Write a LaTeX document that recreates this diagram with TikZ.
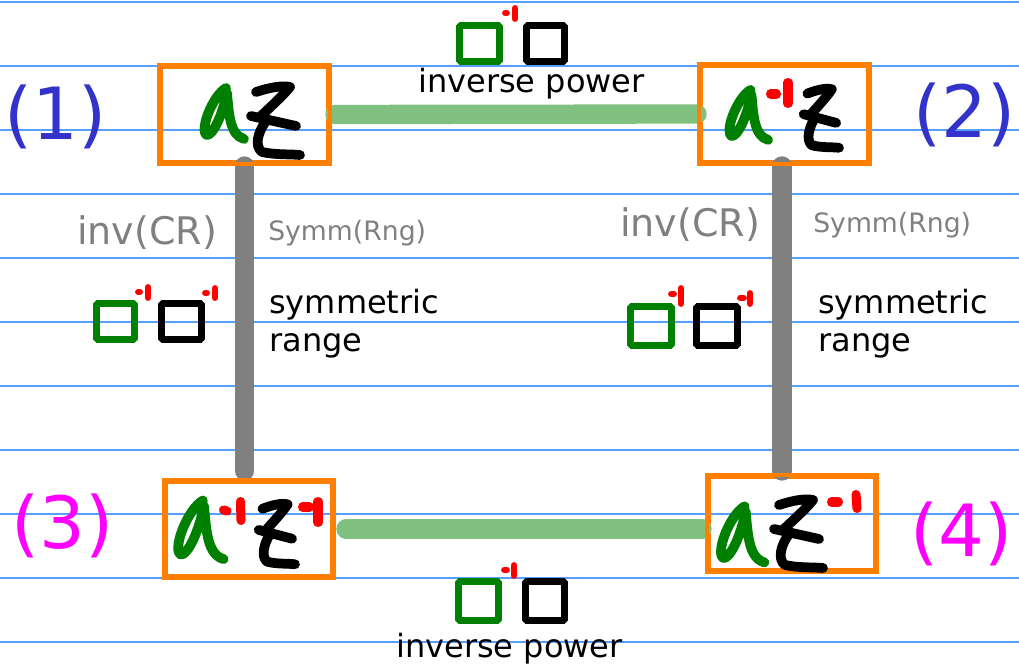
\documentclass[tikz,border=0pt]{standalone}
\usepackage{fontspec}
\setmainfont{DejaVu Sans}
\definecolor{rulecol}{RGB}{85,160,255}
\definecolor{boxcol}{RGB}{255,128,0}
\definecolor{lgreen}{RGB}{128,192,128}
\definecolor{dgreen}{RGB}{0,128,0}
\definecolor{lblue}{RGB}{51,51,204}
\definecolor{mag}{RGB}{255,0,255}
\definecolor{gconn}{RGB}{128,128,128}
\definecolor{gtext}{RGB}{128,128,128}
\tikzset{
  ruleline/.style={draw=rulecol, line width=1.1pt},
  statebox/.style={draw=boxcol, line width=3pt, inner sep=0pt},
  hconn/.style={draw=lgreen, line width=14.5pt, line cap=round},
  vconn/.style={draw=gconn, line width=14.5pt, line cap=round},
  penstroke/.style={line width=7.3pt, line cap=round, line join=round},
  redsmall/.style={draw=red, line width=5.2pt, line cap=round},
  redbig/.style={draw=red, line width=6.8pt, line cap=round},
  sqbox/.style={line width=5.2pt, rounded corners=1.2pt},
  numlbl/.style={inner sep=0pt, anchor=base west, font=\fontsize{54}{60}\selectfont},
  txt/.style={inner sep=0pt, anchor=base west, font=\fontsize{24}{28.5}\selectfont},
  invlbl/.style={inner sep=0pt, anchor=base west, text=gtext, font=\fontsize{28.5}{32}\selectfont},
  symlbl/.style={inner sep=0pt, anchor=base west, text=gtext, font=\fontsize{20}{24}\selectfont},
  glyphA/.pic={\draw[penstroke, dgreen] (26,3) .. controls (14,10) and (2,38) .. (5,48) .. controls (8,56) and (20,40) .. (27,8) .. controls (29,30) and (30,50) .. (44,54);},
  glyphZ/.pic={\draw[penstroke, black] (6,10) .. controls (18,6) and (32,3) .. (40,5) .. controls (32,15) and (18,27) .. (10,35) (1,34) -- (46,44) (16,39) .. controls (8,50) and (4,64) .. (12,70) .. controls (25,73) and (40,72) .. (50,73);}
}
\begin{document}
\begin{tikzpicture}[x=0.75pt, y=-0.75pt]
\useasboundingbox (0,0) rectangle (1019,670);
\fill[white] (0,0) rectangle (1019,670);
% ruled lines
\foreach \yy in {2,66,130,194,258,322,386,450,514,578,642}
  \draw[ruleline] (0,\yy) -- (1019,\yy);
% state boxes
\node[statebox, minimum width=167*0.75pt, minimum height=95*0.75pt] (b1) at (244.5,114.5) {};
\node[statebox, minimum width=167*0.75pt, minimum height=96*0.75pt] (b2) at (784.5,114) {};
\node[statebox, minimum width=166*0.75pt, minimum height=94*0.75pt] (b3) at (249,529) {};
\node[statebox, minimum width=166*0.75pt, minimum height=93*0.75pt] (b4) at (792,523.5) {};
% connectors
\draw[hconn, shorten <=3.75pt, shorten >=1.5pt] (b1.east) -- (b2.west);
\draw[hconn, shorten <=9pt, shorten >=3.75pt] (b3.east) -- (b3.east -| b4.west);
\draw[vconn, shorten <=1.5pt, shorten >=6.75pt] (b1.south) -- (b1.south |- b3.north);
\draw[vconn, shorten <=1.5pt, shorten >=3pt] ([xshift=-1.9pt]b2.south) -- ([xshift=-1.9pt]b2.south |- b4.north);
% redraw box borders over connectors
\foreach \b in {b1,b2,b3,b4}
  \draw[draw=boxcol, line width=3pt] (\b.north west) rectangle (\b.south east);
% handwritten contents
\path (200,85) pic {glyphA};
\path (250,82) pic {glyphZ};
\path (725,87) pic[scale=0.98] {glyphA};
\path (803,85) pic[xscale=0.72, yscale=0.86] {glyphZ};
\draw[redbig] (770.5,94) -- (776.5,94);
\draw[redbig] (788,82.5) -- (788,103.5);
\path (173,497) pic[scale=1.15] {glyphA};
\path (258,500) pic[xscale=0.74, yscale=0.88] {glyphZ};
\draw[redbig] (223.5,510) -- (227,511);
\draw[redbig] (240.5,501.5) -- (241,520.5);
\draw[redbig] (302.5,507) -- (309.5,507);
\draw[redbig] (318,501.5) -- (318,522.5);
\path (716,503) pic[scale=1.1] {glyphA};
\path (773,495) pic {glyphZ};
\draw[redbig] (831.5,502) -- (838.5,502);
\draw[redbig] (856,494.5) -- (857,508.5);
% numbers
\node[numlbl, text=lblue] (n1) at (4,140) {(1)};
\node[numlbl, text=lblue] (n2) at (913,138) {(2)};
\node[numlbl, text=mag] (n3) at (11,548) {(3)};
\node[numlbl, text=mag] (n4) at (910,556) {(4)};
% top operator
\draw[sqbox, draw=dgreen] (459.5,25.5) rectangle (499.5,61.5);
\draw[sqbox, draw=black] (526.5,25.5) rectangle (564.5,61.5);
\draw[redsmall] (505.5,13) -- (506.5,13);
\draw[redsmall] (515,8.5) -- (515,18.5);
\node[txt] (tp) at (418,93) {inverse power};
% bottom operator
\draw[sqbox, draw=dgreen] (458.5,581.5) rectangle (498.5,620.5);
\draw[sqbox, draw=black] (525.5,581.5) rectangle (564.5,620.5);
\draw[redsmall] (504.5,570) -- (506.5,570);
\draw[redsmall] (514,565.5) -- (514,575.5);
\node[txt] (bp) at (396,657) {inverse power};
% left operator
\node[invlbl] (li) at (77,244) {inv(CR)};
\node[symlbl] (ls) at (268,240) {Symm(Rng)};
\node[txt, align=left, anchor=north west] (lr) at (269,289) {symmetric\\range};
\draw[sqbox, draw=dgreen] (96.5,303.5) rectangle (134.5,339.5);
\draw[sqbox, draw=black] (161.5,303.5) rectangle (201.5,339.5);
\draw[redsmall] (138.5,292) -- (139.5,292);
\draw[redsmall] (148,287.5) -- (148,297.5);
\draw[redsmall] (205.5,293) -- (206.5,293);
\draw[redsmall] (215,288.5) -- (215,297.5);
% right operator
\node[invlbl] (ri) at (620,236) {inv(CR)};
\node[symlbl] (rs) at (813,232) {Symm(Rng)};
\node[txt, align=left, anchor=north west] (rr) at (818,289) {symmetric\\range};
\draw[sqbox, draw=dgreen] (630.5,306.5) rectangle (671.5,345.5);
\draw[sqbox, draw=black] (696.5,306.5) rectangle (737.5,345.5);
\draw[redsmall] (671.5,294) -- (673.5,294);
\draw[redsmall] (681,288.5) -- (681,303.5);
\draw[redsmall] (740.5,298) -- (743.5,298);
\draw[redsmall] (750,293.5) -- (750,303.5);
\end{tikzpicture}
\end{document}
